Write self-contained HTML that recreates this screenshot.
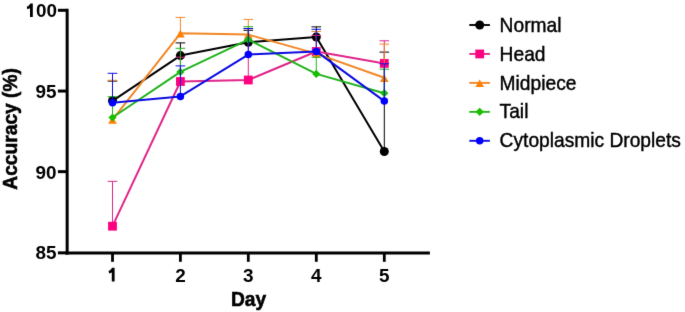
<!DOCTYPE html>
<html><head><meta charset="utf-8"><style>
html,body{margin:0;padding:0;background:#fff;width:685px;height:312px;overflow:hidden}
svg{display:block;will-change:transform}
.tk{font-family:"Liberation Sans",sans-serif;font-weight:bold;font-size:18.9px;fill:#000}
.tt{font-family:"Liberation Sans",sans-serif;font-weight:bold;font-size:19.2px;fill:#000;stroke:#000;stroke-width:0.55px}
.lg{font-family:"Liberation Sans",sans-serif;font-size:19.2px;fill:#000;stroke:#000;stroke-width:0.4px}
</style></head><body>
<svg width="685" height="312" viewBox="0 0 685 312">
<defs><filter id="b" x="0" y="0" width="685" height="312" filterUnits="userSpaceOnUse" color-interpolation-filters="sRGB"><feConvolveMatrix order="3" kernelMatrix="0.0064 0.0672 0.0064 0.0672 0.7056 0.0672 0.0064 0.0672 0.0064" divisor="1" edgeMode="duplicate"/></filter></defs>
<rect width="685" height="312" fill="#fff"/>
<g filter="url(#b)">
<path d="M67.15 8.8 V254.55" stroke="#000" stroke-width="3.0" fill="none"/>
<path d="M65.65 253.05 H429.9" stroke="#000" stroke-width="3.0" fill="none"/>
<path d="M57.9 10.3 H67.4" stroke="#000" stroke-width="3.0"/>
<text x="56.9" y="17.00" class="tk" text-anchor="end">00</text>
<path d="M32.8 3.50 L32.8 17.1 L30.00 17.1 L30.00 8.30 L27.40 9.20 L26.70 6.80 Q29.00 5.90 30.40 3.50 Z" fill="#000"/>
<path d="M57.9 91.05 H67.4" stroke="#000" stroke-width="3.0"/>
<text x="56.6" y="98.15" class="tk" text-anchor="end">95</text>
<path d="M57.9 171.65 H67.4" stroke="#000" stroke-width="3.0"/>
<text x="56.6" y="179.25" class="tk" text-anchor="end">90</text>
<path d="M57.9 252.85 H67.4" stroke="#000" stroke-width="3.0"/>
<text x="56.6" y="258.9" class="tk" text-anchor="end">85</text>
<path d="M112.5 252.85 V261.8" stroke="#000" stroke-width="2.8"/>
<path d="M114.6 267.80 L114.6 281.4 L111.80 281.4 L111.80 272.60 L109.20 273.50 L108.50 271.10 Q110.80 270.20 112.20 267.80 Z" fill="#000"/>
<path d="M180.4 252.85 V261.8" stroke="#000" stroke-width="2.8"/>
<text x="180.4" y="281.6" class="tk" text-anchor="middle">2</text>
<path d="M248.3 252.85 V261.8" stroke="#000" stroke-width="2.8"/>
<text x="248.3" y="281.6" class="tk" text-anchor="middle">3</text>
<path d="M316.3 252.85 V261.8" stroke="#000" stroke-width="2.8"/>
<text x="316.3" y="281.6" class="tk" text-anchor="middle">4</text>
<path d="M384.3 252.85 V261.8" stroke="#000" stroke-width="2.8"/>
<text x="384.3" y="281.6" class="tk" text-anchor="middle">5</text>
<text transform="translate(248.6,305.7) scale(1,1.04)" class="tt" text-anchor="middle">Day</text>
<text transform="translate(16.6,128.9) rotate(-90) scale(1,1.03)" class="tt" text-anchor="middle">Accuracy (%)</text>
<line x1="112.5" y1="100.8" x2="112.5" y2="81.1" stroke="#000000" stroke-width="1"/>
<line x1="107.70" y1="81.1" x2="117.30" y2="81.1" stroke="#000000" stroke-width="1.0"/>
<line x1="180.4" y1="55.6" x2="180.4" y2="42.9" stroke="#000000" stroke-width="1"/>
<line x1="175.60" y1="42.9" x2="185.20" y2="42.9" stroke="#000000" stroke-width="1.0"/>
<line x1="248.3" y1="42.2" x2="248.3" y2="30.3" stroke="#000000" stroke-width="1"/>
<line x1="243.50" y1="30.3" x2="253.10" y2="30.3" stroke="#000000" stroke-width="1.0"/>
<line x1="316.3" y1="37.0" x2="316.3" y2="26.85" stroke="#000000" stroke-width="1"/>
<line x1="311.50" y1="26.85" x2="321.10" y2="26.85" stroke="#000000" stroke-width="1.0"/>
<line x1="384.3" y1="151.45" x2="384.3" y2="52.1" stroke="#000000" stroke-width="1"/>
<line x1="379.50" y1="52.1" x2="389.10" y2="52.1" stroke="#000000" stroke-width="1.0"/>
<polyline points="112.5,100.8 180.4,55.6 248.3,42.2 316.3,37.0 384.3,151.45" fill="none" stroke="#000000" stroke-width="2" stroke-linejoin="round"/>
<circle cx="112.5" cy="100.8" r="4.5" fill="#000000"/>
<circle cx="180.4" cy="55.6" r="4.5" fill="#000000"/>
<circle cx="248.3" cy="42.2" r="4.5" fill="#000000"/>
<circle cx="316.3" cy="37.0" r="4.5" fill="#000000"/>
<circle cx="384.3" cy="151.45" r="4.5" fill="#000000"/>
<line x1="112.5" y1="226.2" x2="112.5" y2="181.35" stroke="#E0268A" stroke-width="1"/>
<line x1="107.70" y1="181.35" x2="117.30" y2="181.35" stroke="#E0268A" stroke-width="1.0"/>
<line x1="180.4" y1="81.5" x2="180.4" y2="57.2" stroke="#E0268A" stroke-width="1"/>
<line x1="175.60" y1="57.2" x2="185.20" y2="57.2" stroke="#E0268A" stroke-width="1.0"/>
<line x1="248.3" y1="80.0" x2="248.3" y2="28.6" stroke="#E0268A" stroke-width="1"/>
<line x1="243.50" y1="28.6" x2="253.10" y2="28.6" stroke="#E0268A" stroke-width="1.0"/>
<line x1="316.3" y1="51.5" x2="316.3" y2="35.4" stroke="#E0268A" stroke-width="1"/>
<line x1="311.50" y1="35.4" x2="321.10" y2="35.4" stroke="#E0268A" stroke-width="1.0"/>
<line x1="384.3" y1="63.4" x2="384.3" y2="40.8" stroke="#E0268A" stroke-width="1"/>
<line x1="379.50" y1="40.8" x2="389.10" y2="40.8" stroke="#E0268A" stroke-width="1.0"/>
<polyline points="112.5,226.2 180.4,81.5 248.3,80.0 316.3,51.5 384.3,63.4" fill="none" stroke="#E0268A" stroke-width="2" stroke-linejoin="round"/>
<rect x="108.10" y="221.80" width="8.8" height="8.8" fill="#FF0080"/>
<rect x="176.00" y="77.10" width="8.8" height="8.8" fill="#FF0080"/>
<rect x="243.90" y="75.60" width="8.8" height="8.8" fill="#FF0080"/>
<rect x="311.90" y="47.10" width="8.8" height="8.8" fill="#FF0080"/>
<rect x="379.90" y="59.00" width="8.8" height="8.8" fill="#FF0080"/>
<line x1="112.5" y1="119.6" x2="112.5" y2="80.3" stroke="#F28726" stroke-width="1"/>
<line x1="107.70" y1="80.3" x2="117.30" y2="80.3" stroke="#F28726" stroke-width="1.0"/>
<line x1="180.4" y1="33.3" x2="180.4" y2="17.4" stroke="#F28726" stroke-width="1"/>
<line x1="175.60" y1="17.4" x2="185.20" y2="17.4" stroke="#F28726" stroke-width="1.0"/>
<line x1="248.3" y1="34.6" x2="248.3" y2="19.4" stroke="#F28726" stroke-width="1"/>
<line x1="243.50" y1="19.4" x2="253.10" y2="19.4" stroke="#F28726" stroke-width="1.0"/>
<line x1="316.3" y1="53.6" x2="316.3" y2="31.5" stroke="#F28726" stroke-width="1"/>
<line x1="311.50" y1="31.5" x2="321.10" y2="31.5" stroke="#F28726" stroke-width="1.0"/>
<line x1="384.3" y1="77.8" x2="384.3" y2="44.1" stroke="#F28726" stroke-width="1"/>
<line x1="379.50" y1="44.1" x2="389.10" y2="44.1" stroke="#F28726" stroke-width="1.0"/>
<polyline points="112.5,119.6 180.4,33.3 248.3,34.6 316.3,53.6 384.3,77.8" fill="none" stroke="#F28726" stroke-width="2" stroke-linejoin="round"/>
<polygon points="112.5,116.10 116.80,123.70 108.20,123.70" fill="#FF8000"/>
<polygon points="180.4,29.80 184.70,37.40 176.10,37.40" fill="#FF8000"/>
<polygon points="248.3,31.10 252.60,38.70 244.00,38.70" fill="#FF8000"/>
<polygon points="316.3,50.10 320.60,57.70 312.00,57.70" fill="#FF8000"/>
<polygon points="384.3,74.30 388.60,81.90 380.00,81.90" fill="#FF8000"/>
<line x1="112.5" y1="117.5" x2="112.5" y2="96.7" stroke="#22B41C" stroke-width="1"/>
<line x1="107.70" y1="96.7" x2="117.30" y2="96.7" stroke="#22B41C" stroke-width="1.0"/>
<line x1="180.4" y1="71.9" x2="180.4" y2="48.3" stroke="#22B41C" stroke-width="1"/>
<line x1="175.60" y1="48.3" x2="185.20" y2="48.3" stroke="#22B41C" stroke-width="1.0"/>
<line x1="248.3" y1="39.6" x2="248.3" y2="26.7" stroke="#22B41C" stroke-width="1"/>
<line x1="243.50" y1="26.7" x2="253.10" y2="26.7" stroke="#22B41C" stroke-width="1.0"/>
<line x1="316.3" y1="73.9" x2="316.3" y2="57.2" stroke="#22B41C" stroke-width="1"/>
<line x1="311.50" y1="57.2" x2="321.10" y2="57.2" stroke="#22B41C" stroke-width="1.0"/>
<line x1="384.3" y1="93.2" x2="384.3" y2="69.2" stroke="#22B41C" stroke-width="1"/>
<line x1="379.50" y1="69.2" x2="389.10" y2="69.2" stroke="#22B41C" stroke-width="1.0"/>
<polyline points="112.5,117.5 180.4,71.9 248.3,39.6 316.3,73.9 384.3,93.2" fill="none" stroke="#22B41C" stroke-width="2" stroke-linejoin="round"/>
<polygon points="112.5,113.40 116.60,117.5 112.5,121.60 108.40,117.5" fill="#18BE00"/>
<polygon points="180.4,67.80 184.50,71.9 180.4,76.00 176.30,71.9" fill="#18BE00"/>
<polygon points="248.3,35.50 252.40,39.6 248.3,43.70 244.20,39.6" fill="#18BE00"/>
<polygon points="316.3,69.80 320.40,73.9 316.3,78.00 312.20,73.9" fill="#18BE00"/>
<polygon points="384.3,89.10 388.40,93.2 384.3,97.30 380.20,93.2" fill="#18BE00"/>
<line x1="112.5" y1="102.8" x2="112.5" y2="73.3" stroke="#0C0CE4" stroke-width="1"/>
<line x1="107.70" y1="73.3" x2="117.30" y2="73.3" stroke="#0C0CE4" stroke-width="1.0"/>
<line x1="180.4" y1="96.4" x2="180.4" y2="65.9" stroke="#0C0CE4" stroke-width="1"/>
<line x1="175.60" y1="65.9" x2="185.20" y2="65.9" stroke="#0C0CE4" stroke-width="1.0"/>
<line x1="248.3" y1="54.6" x2="248.3" y2="28.5" stroke="#0C0CE4" stroke-width="1"/>
<line x1="243.50" y1="28.5" x2="253.10" y2="28.5" stroke="#0C0CE4" stroke-width="1.0"/>
<line x1="316.3" y1="51.4" x2="316.3" y2="29.3" stroke="#0C0CE4" stroke-width="1"/>
<line x1="311.50" y1="29.3" x2="321.10" y2="29.3" stroke="#0C0CE4" stroke-width="1.0"/>
<line x1="384.3" y1="101.1" x2="384.3" y2="63.8" stroke="#0C0CE4" stroke-width="1"/>
<line x1="379.50" y1="63.8" x2="389.10" y2="63.8" stroke="#0C0CE4" stroke-width="1.0"/>
<polyline points="112.5,102.8 180.4,96.4 248.3,54.6 316.3,51.4 384.3,101.1" fill="none" stroke="#0C0CE4" stroke-width="2" stroke-linejoin="round"/>
<circle cx="112.5" cy="102.8" r="3.75" fill="#0000FF"/>
<circle cx="180.4" cy="96.4" r="3.75" fill="#0000FF"/>
<circle cx="248.3" cy="54.6" r="3.75" fill="#0000FF"/>
<circle cx="316.3" cy="51.4" r="3.75" fill="#0000FF"/>
<circle cx="384.3" cy="101.1" r="3.75" fill="#0000FF"/>
<line x1="469.3" y1="25.0" x2="489.9" y2="25.0" stroke="#000000" stroke-width="1.9"/>
<circle cx="479.7" cy="25.0" r="4.5" fill="#000000"/>
<text transform="translate(499.6,31.6) scale(1,1.04)" class="lg">Normal</text>
<line x1="469.3" y1="53.95" x2="489.9" y2="53.95" stroke="#E0268A" stroke-width="1.9"/>
<rect x="475.30" y="49.55" width="8.8" height="8.8" fill="#FF0080"/>
<text transform="translate(499.6,60.7) scale(1,1.04)" class="lg">Head</text>
<line x1="469.3" y1="82.9" x2="489.9" y2="82.9" stroke="#F28726" stroke-width="1.9"/>
<polygon points="479.7,79.40 484.00,87.00 475.40,87.00" fill="#FF8000"/>
<text transform="translate(499.6,89.5) scale(1,1.04)" class="lg">Midpiece</text>
<line x1="469.3" y1="111.85" x2="489.9" y2="111.85" stroke="#22B41C" stroke-width="1.9"/>
<polygon points="479.7,107.75 483.80,111.85 479.7,115.95 475.60,111.85" fill="#18BE00"/>
<text transform="translate(499.6,118.2) scale(1,1.04)" class="lg">Tail</text>
<line x1="469.3" y1="140.8" x2="489.9" y2="140.8" stroke="#0C0CE4" stroke-width="1.9"/>
<circle cx="479.7" cy="140.8" r="3.75" fill="#0000FF"/>
<text transform="translate(499.6,147.1) scale(1,1.04)" class="lg">Cytoplasmic Droplets</text>
</g>
</svg>
</body></html>
